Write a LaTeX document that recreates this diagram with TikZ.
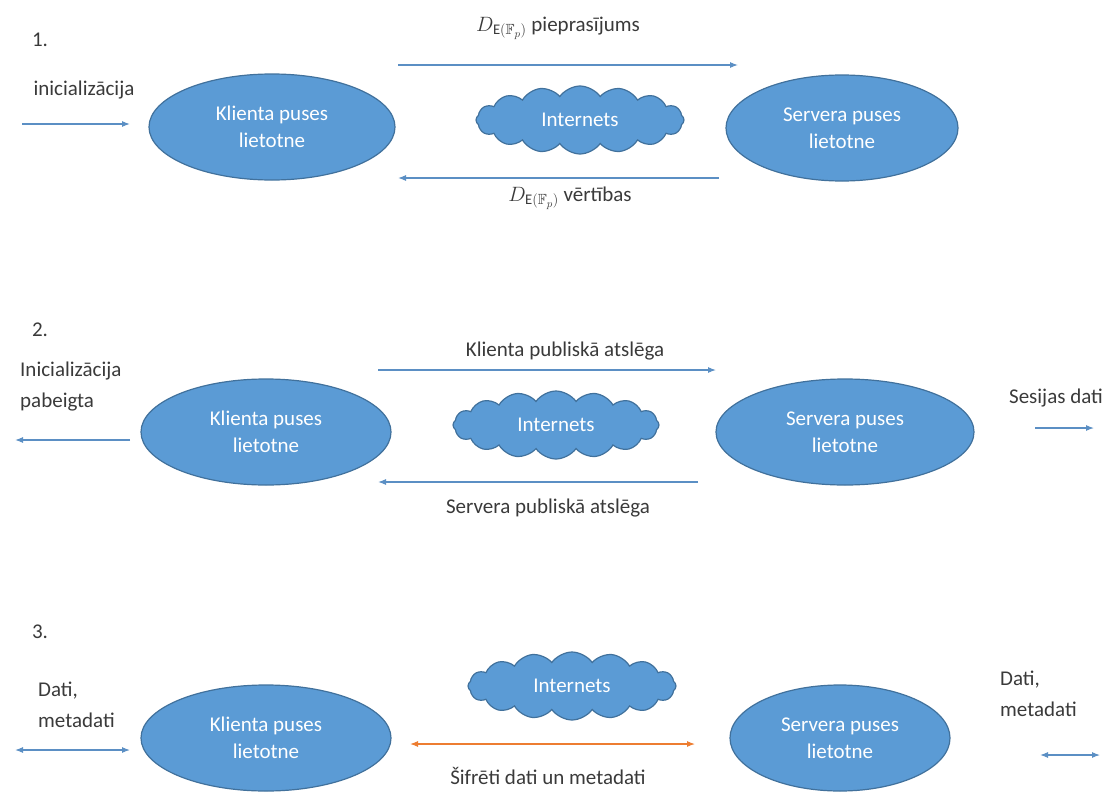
\documentclass[tikz,border=0pt]{standalone}
\usepackage{amsmath,amssymb}
\usepackage{fontspec}
\setmainfont{Carlito}
\usepackage{tikz}
\usetikzlibrary{shapes.geometric,shapes.symbols,arrows.meta}

\definecolor{appblue}{HTML}{5B9BD5}
\definecolor{appedge}{HTML}{41719C}
\definecolor{flowblue}{HTML}{5B8FC4}
\definecolor{flowred}{HTML}{ED7D31}
\definecolor{lblgray}{HTML}{3A3A3A}

\tikzset{
    app/.style={ellipse, fill=appblue, draw=appedge, line width=1.2pt, text=white,
        align=center, minimum height=106pt, inner sep=0pt,
        font=\fontsize{21}{27}\selectfont},
    net/.style={cloud, cloud puffs=16, cloud puff arc=110, aspect=3.2, fill=appblue,
        draw=appedge, line width=1.2pt, text=white, minimum width=208pt,
        minimum height=68pt, inner sep=0pt, font=\fontsize{21}{27}\selectfont},
    flow/.style={draw=flowblue, line width=1.1pt, -{Latex[length=8pt,width=6pt]}},
    both/.style={draw=flowblue, line width=1.1pt, {Latex[length=8pt,width=6pt]}-{Latex[length=8pt,width=6pt]}},
    lbl/.style={text=lblgray, inner sep=0pt, align=left, font=\fontsize{21}{31}\selectfont},
}

\begin{document}
\begin{tikzpicture}[x=1pt,y=-1pt]
    \useasboundingbox (0,0) rectangle (1108,792);

    % ---- 1. inicializacija ----
    \node[lbl] (n1) at (40,40) {1.};

    \node[app, minimum width=246pt] (K1) at (272,127) {Klienta puses\\lietotne};
    \node[app, minimum width=232pt] (S1) at (842,128) {Servera puses\\lietotne};
    \node[net] (I1) at (580,120) {Internets};

    \coordinate (in1a) at (22,124);
    \coordinate (in1b) at (130,124);
    \node[lbl] (t1in) at (84,90) {inicializācija};
    \draw[flow] (in1a) -- (in1b);

    \coordinate (q1a) at (398,65);
    \coordinate (q1b) at (738,65);
    \draw[flow] (q1a) -- (q1b);
    \node[lbl] (t1q) at (558,28) {$D_{\mathrm{E}(\mathbb{F}_p)}$ pieprasījums};

    \coordinate (v1a) at (719,178);
    \coordinate (v1b) at (398,178);
    \draw[flow] (v1a) -- (v1b);
    \node[lbl] (t1v) at (570,198) {$D_{\mathrm{E}(\mathbb{F}_p)}$ vērtības};

    % ---- 2. atslegu apmaina ----
    \node[lbl] (n2) at (40,330) {2.};

    \node[app, minimum width=250pt] (K2) at (266,432) {Klienta puses\\lietotne};
    \node[app, minimum width=258pt] (S2) at (845,432) {Servera puses\\lietotne};
    \node[net, minimum width=206pt] (I2) at (556,425) {Internets};

    \node[lbl, anchor=west] (t2in) at (20,387) {Inicializācija\\pabeigta};
    \coordinate (in2a) at (130,440);
    \coordinate (in2b) at (15,440);
    \draw[flow] (in2a) -- (in2b);

    \coordinate (p2a) at (378,370);
    \coordinate (p2b) at (716,370);
    \draw[flow] (p2a) -- (p2b);
    \node[lbl] (t2p) at (565,351) {Klienta publiskā atslēga};

    \coordinate (s2a) at (698,482);
    \coordinate (s2b) at (378,482);
    \draw[flow] (s2a) -- (s2b);
    \node[lbl] (t2s) at (548,508) {Servera publiskā atslēga};

    \node[lbl] (t2out) at (1056,398) {Sesijas dati};
    \coordinate (out2a) at (1035,428);
    \coordinate (out2b) at (1094,428);
    \draw[flow] (out2a) -- (out2b);

    % ---- 3. datu apmaina ----
    \node[lbl] (n3) at (40,632) {3.};

    \node[app, minimum width=250pt] (K3) at (266,738) {Klienta puses\\lietotne};
    \node[app, minimum width=220pt] (S3) at (840,738) {Servera puses\\lietotne};
    \node[net] (I3) at (572,686) {Internets};

    \node[lbl, anchor=west] (t3l) at (38,705) {Dati,\\metadati};
    \coordinate (l3a) at (15,750);
    \coordinate (l3b) at (130,750);
    \draw[both] (l3a) -- (l3b);

    \coordinate (e3a) at (410,744);
    \coordinate (e3b) at (695,744);
    \draw[both, draw=flowred] (e3a) -- (e3b);
    \node[lbl] (t3e) at (548,776) {Šifrēti dati un metadati};

    \node[lbl, anchor=west] (t3r) at (1000,694) {Dati,\\metadati};
    \coordinate (r3a) at (1040,755);
    \coordinate (r3b) at (1100,755);
    \draw[both] (r3a) -- (r3b);
\end{tikzpicture}
\end{document}
